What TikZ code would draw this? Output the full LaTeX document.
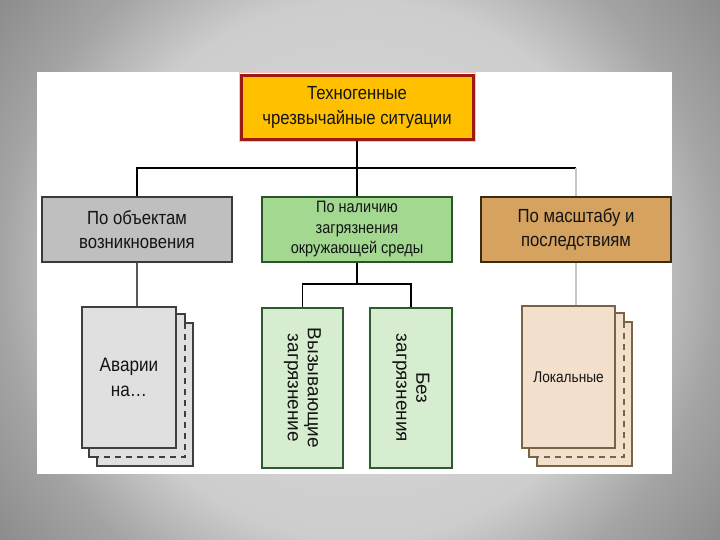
\documentclass[tikz,border=0pt]{standalone}
\usepackage{fontspec}
\setmainfont{Liberation Sans}[FakeStretch=0.88]
\newfontfamily\rotfont{Liberation Sans}
\usetikzlibrary{calc}
\definecolor{bgin}{HTML}{DCDCDC}
\definecolor{bgtop}{HTML}{CDCDCD}
\definecolor{bgmid}{HTML}{A4A4A4}
\definecolor{bgout}{HTML}{8C8C8C}
\pgfdeclareradialshading{bgshade}{\pgfpoint{0bp}{0bp}}{color(0bp)=(bgin); color(15bp)=(bgtop); color(20bp)=(bgmid); color(25bp)=(bgout); color(50bp)=(bgout)}
\definecolor{topfill}{HTML}{FFC000}
\definecolor{topdraw}{HTML}{9A1A14}
\definecolor{grayfill}{HTML}{BFBFBF}
\definecolor{graydraw}{HTML}{3A3A3A}
\definecolor{greenfill}{HTML}{A2D890}
\definecolor{greendraw}{HTML}{2A552A}
\definecolor{brownfill}{HTML}{D5A25F}
\definecolor{browndraw}{HTML}{3B2A16}
\definecolor{pgfill}{HTML}{E0E0E0}
\definecolor{pgdraw}{HTML}{3F3F3F}
\definecolor{lgfill}{HTML}{D6EDCF}
\definecolor{lgdraw}{HTML}{2E5A2E}
\definecolor{ppfill}{HTML}{F3E0CC}
\definecolor{ppdraw}{HTML}{7A6446}
\definecolor{txt}{HTML}{141414}
\newcommand{\pagestack}[3]{%
  \fill[#2,draw=#3,line width=2pt] ($(#1.north west)+(16,17)$) rectangle ($(#1.south east)+(16,17)$);
  \fill[#2] ($(#1.north west)+(8,8)$) rectangle ($(#1.south east)+(8,8)$);
  \draw[#3,line width=2pt] ($(#1.north west)+(8,8)$) -- ($(#1.north east)+(8,8)$) -- ($(#1.north east)+(8,17)$);
  \draw[#3,line width=2pt] ($(#1.north west)+(8,8)$) -- ($(#1.south west)+(8,8)$) -- ($(#1.south west)+(16,8)$);
  \draw[#3,line width=2pt,dash pattern=on 6pt off 5pt] ($(#1.north east)+(8,17)$) -- ($(#1.south east)+(8,8)$) -- ($(#1.south west)+(16,8)$);
}
\tikzset{
  box/.style={rectangle,minimum width=190,minimum height=65,line width=2.5pt,align=center,text=txt,inner sep=0pt},
  pagebox/.style={rectangle,line width=2pt,align=center,text=txt,inner sep=0pt},
  rottext/.style={rotate=-90,align=center,text=txt,font=\rotfont\fontsize{19}{20}\selectfont},
  conn/.style={line width=1.2pt,draw=black},
  conngray/.style={line width=1.2pt,draw=black!65},
  connlight/.style={line width=1.2pt,draw=black!22},
}
\begin{document}
\begin{tikzpicture}[x=1pt,y=-1pt]
\useasboundingbox (0,0) rectangle (720,540);
\begin{scope}
\clip (0,0) rectangle (720,540);
\shade[shading=bgshade] (360,270) circle (450);
\end{scope}
\fill[white] (37,72) rectangle (672,474);

\draw[red!25,line width=1pt] (239,73) rectangle (475,142);
\node[box,fill=topfill,draw=topdraw,line width=3pt,minimum width=232,minimum height=64,
  font=\fontsize{19}{24}\selectfont] (top) at (357,107.5) {Техногенные\\[0.5pt]чрезвычайные ситуации};

\node[box,fill=grayfill,draw=graydraw,font=\fontsize{19}{24.5}\selectfont] (gray) at (137,229.5) {По объектам\\возникновения};
\node[box,fill=greenfill,draw=greendraw,font=\fontsize{16.5}{20.5}\selectfont] (green) at (357,229.5) {По наличию\\загрязнения\\окружающей среды};
\node[box,fill=brownfill,draw=browndraw,font=\fontsize{19}{24.5}\selectfont] (brown) at (576,229.5) {По масштабу и\\последствиям};

\coordinate (hub) at (357,168);
\coordinate (ghub) at (357,284);

% left stack
\node[pagebox,minimum width=94,minimum height=141] (pgray0) at (129,377.5) {};
\pagestack{pgray0}{pgfill}{pgdraw}
\node[pagebox,fill=pgfill,draw=pgdraw,minimum width=94,minimum height=141,font=\fontsize{19.5}{25}\selectfont] (pgray) at (129,377.5) {Аварии\\на…};

% right stack
\node[pagebox,minimum width=93,minimum height=142] (ppeach0) at (568.5,377) {};
\pagestack{ppeach0}{ppfill}{ppdraw}
\node[pagebox,fill=ppfill,draw=ppdraw,minimum width=93,minimum height=142,font=\fontsize{15.5}{19}\selectfont] (ppeach) at (568.5,377) {Локальные};

% green lower boxes
\node[pagebox,fill=lgfill,draw=lgdraw,minimum width=81,minimum height=160] (g1) at (302.5,388) {};
\node[rottext] (g1t) at (g1.center) {Вызывающие\\загрязнение};
\node[pagebox,fill=lgfill,draw=lgdraw,minimum width=82,minimum height=160] (g2) at (411,388) {};
\node[rottext] (g2t) at (g2.center) {Без\\загрязнения};

% connectors
\draw[conn] (top.south) -- (green.north);
\draw[conn] (gray.north) |- (hub) -- (hub -| brown.north);
\draw[connlight] (hub -| brown.north) -- (brown.north);
\draw[conngray] (gray.south) -- (gray.south |- pgray.north);
\draw[connlight] (brown.south) -- (brown.south |- ppeach.north);
\draw[conn] (green.south) -- (ghub);
\draw[conn] (g1.north) |- (ghub) -| (g2.north);
\end{tikzpicture}
\end{document}
